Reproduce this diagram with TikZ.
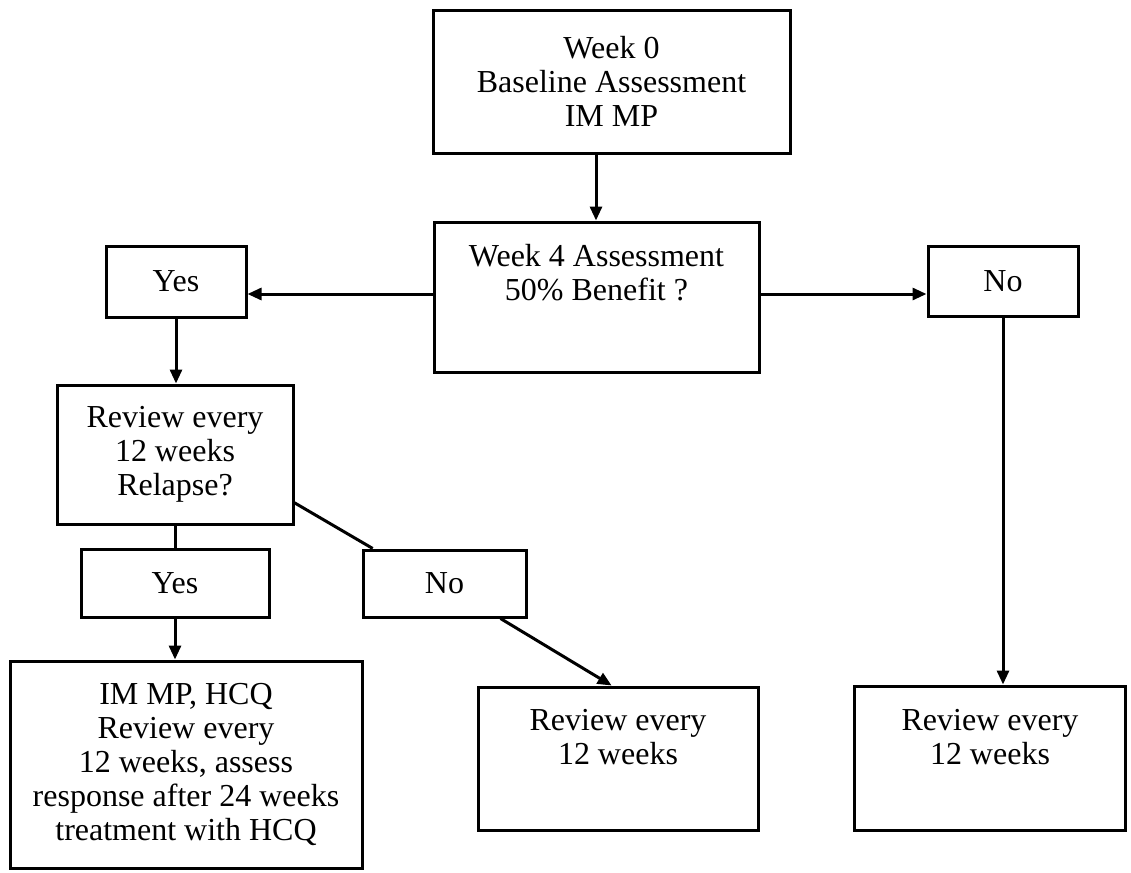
\documentclass[tikz,border=0pt]{standalone}
\usepackage{fontspec}
\setmainfont{Liberation Serif}
\usetikzlibrary{arrows.meta}
\begin{document}
\begin{tikzpicture}[x=0.5pt,y=-0.5pt,
  box/.style={draw,line width=1.5pt,align=center,inner sep=0pt,font=\fontsize{16}{17}\selectfont},
  txt/.style={align=center,inner sep=0pt,font=\fontsize{16}{17}\selectfont},
  arr/.style={line width=1.5pt,-{Triangle[length=7pt,width=6pt]}},
  ln/.style={line width=1.5pt}]
\useasboundingbox (0,0) rectangle (1131,873);
% boxes
\node[box,minimum width=178.5pt,minimum height=71.5pt] (w0) at (611.5,81.5) {Week 0\\Baseline Assessment\\IM MP};
\node[box,minimum width=162.5pt,minimum height=75pt] (w4) at (596.5,297) {};
\node[txt] (w4t) at (596.5,273) {Week 4 Assessment\\50\% Benefit ?};
\node[box,minimum width=70pt,minimum height=35.5pt] (yes1) at (176,281.5) {Yes};
\node[box,minimum width=75pt,minimum height=35pt] (no1) at (1003,281) {No};
\node[box,minimum width=118pt,minimum height=69.5pt] (rev) at (175,454.5) {Review every\\12 weeks\\Relapse?};
\node[box,minimum width=94pt,minimum height=34pt] (yes2) at (175,583) {Yes};
\node[box,minimum width=81.5pt,minimum height=33.5pt] (no2) at (444.5,583.5) {No};
\node[box,minimum width=176pt,minimum height=103.5pt] (im) at (186,764.5) {IM MP, HCQ\\Review every\\12 weeks, assess\\response after 24 weeks\\treatment with HCQ};
\node[box,minimum width=140pt,minimum height=71.5pt] (mid) at (618,758.5) {};
\node[txt] (midt) at (618,737.5) {Review every\\12 weeks};
\node[box,minimum width=135.5pt,minimum height=72pt] (rgt) at (989.5,758) {};
\node[txt] (rgtt) at (990,737.5) {Review every\\12 weeks};
% connectors
\draw[arr] (w0.south -| 596,0) -- (w4.north -| 596,0);
\draw[arr] (w4.west |- 0,294) -- (yes1.east |- 0,294);
\draw[arr] (w4.east |- 0,294) -- (no1.west |- 0,294);
\draw[arr] (yes1.south) -- (yes1.south |- rev.north);
\draw[ln] (rev.south) -- (rev.south |- yes2.north);
\draw[ln] (rev.-22) -- (no2.154);
\draw[arr] (yes2.south) -- (yes2.south |- im.north);
\draw[arr] (no2.-32) -- (mid.95);
\draw[arr] (no1.south) -- (no1.south |- rgt.north);
\end{tikzpicture}
\end{document}
